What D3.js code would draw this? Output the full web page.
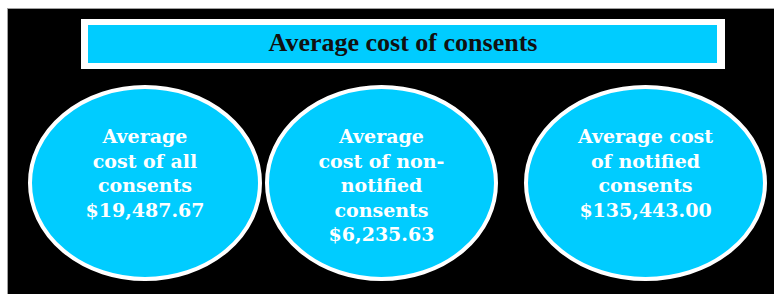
<!DOCTYPE html>
<html>
<head>
<meta charset="utf-8">
<script src="https://cdn.jsdelivr.net/npm/d3@7"></script>
<style>
  html, body { margin: 0; padding: 0; background: #ffffff; }
</style>
</head>
<body>
<div id="chart"></div>
<script>
// chart content
let titleText = "Average cost of consents";
let categories = ["all", "nonNotified", "notified"];
let labelLines = [
    ["Average", "cost of all", "consents"],
    ["Average", "cost of non-", "notified", "consents"],
    ["Average cost", "of notified", "consents"]
];
let values = [19487.67, 6235.63, 135443.00];

// dimensions
let width = 774, height = 294;
let cyan = "#00ccff";

let svg = d3.select("#chart")
    .append("svg")
    .attr("width", width)
    .attr("height", height);

// black panel
svg.append("rect")
    .attr("x", 7.5)
    .attr("y", 8.5)
    .attr("width", width)
    .attr("height", height)
    .attr("fill", "#000")
    .attr("stroke", "#a0a0a0")
    .attr("stroke-width", 1);

// title box
svg.append("rect")
    .attr("x", 81)
    .attr("y", 19)
    .attr("width", 644)
    .attr("height", 50)
    .attr("fill", "#fff");
svg.append("rect")
    .attr("x", 88)
    .attr("y", 25)
    .attr("width", 629)
    .attr("height", 38)
    .attr("fill", cyan);
svg.append("text")
    .attr("x", 403)
    .attr("y", 51)
    .attr("text-anchor", "middle")
    .style("font-family", "'Liberation Serif', serif")
    .style("font-weight", "bold")
    .style("font-size", "26px")
    .attr("fill", "#111")
    .text(titleText);

// position of each bubble
let x = d3.scaleOrdinal()
    .domain(categories)
    .range([145, 381.5, 645.5]);
let rx = d3.scaleOrdinal()
    .domain(categories)
    .range([115, 114.5, 119.5]);
let cy = 183, ry = 96;
let lineStep = 24.5, firstLine = 143;

let fmt = d3.format("$,.2f");

let rows = categories.map(function (c, i) {
    return {key: c, lines: labelLines[i].concat([fmt(values[i])])};
});

let bubble = svg.selectAll(".bubble")
    .data(rows)
    .enter()
    .append("g")
    .attr("class", "bubble");

bubble.append("ellipse")
    .attr("cx", function (d) { return x(d.key); })
    .attr("cy", cy)
    .attr("rx", function (d) { return rx(d.key); })
    .attr("ry", ry)
    .attr("fill", cyan)
    .attr("stroke", "#fff")
    .attr("stroke-width", 4);

bubble.selectAll("text")
    .data(function (d) {
        return d.lines.map(function (t) { return {key: d.key, t: t}; });
    })
    .enter()
    .append("text")
    .attr("x", function (d) { return x(d.key); })
    .attr("y", function (d, i) { return firstLine + i * lineStep; })
    .attr("text-anchor", "middle")
    .style("font-family", "'DejaVu Serif', serif")
    .style("font-weight", "bold")
    .style("font-size", "19px")
    .attr("fill", "#fff")
    .text(function (d) { return d.t; });
</script>
</body>
</html>
